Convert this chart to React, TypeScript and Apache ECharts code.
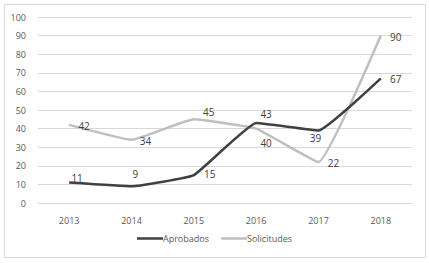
import React, { useEffect, useRef } from "react";
import * as echarts from "echarts";

const categories = ["2013", "2014", "2015", "2016", "2017", "2018"];
const aprobados = [11, 9, 15, 43, 39, 67];
const solicitudes = [42, 34, 45, 40, 22, 90];
const seriesNames = ["Aprobados", "Solicitudes"];

// label offsets per point [dx, dy] relative to point
const aprobadosLabelPos = [[8, -4], [4, -12], [16, -1], [10, -9], [-3, 8], [15, 1]];
const solicitudesLabelPos = [[15, 1], [14, 1], [15, -7], [10, 14], [15, 1], [15, 1]];

export default function App() {
  const ref = useRef<HTMLDivElement>(null);
  useEffect(() => {
    document.body.style.margin = "0";
    const chart = echarts.init(ref.current!, null, { renderer: "svg" });
    const font = "'Open Sans', 'Liberation Sans', sans-serif";
    const mk = (vals: number[], pos: number[][]) =>
      vals.map((v, i) => ({
        value: v,
        label: {
          show: true,
          position: pos[i],
          align: "center",
          verticalAlign: "middle",
        },
      }));
    chart.setOption({
      animation: false,
      backgroundColor: "#ffffff",
      textStyle: { fontFamily: font },
      graphic: [
        {
          type: "rect",
          shape: { x: 4.5, y: 4.5, width: 421, height: 253 },
          style: { fill: "none", stroke: "#d9d9d9", lineWidth: 1 },
          silent: true,
        },
      ],
      grid: { left: 38, right: 17, top: 17, bottom: 60, containLabel: false },
      xAxis: {
        type: "category",
        data: categories,
        boundaryGap: true,
        axisLine: { lineStyle: { color: "#d9d9d9" } },
        axisTick: { show: false },
        axisLabel: { color: "#595959", fontSize: 9, margin: 13, fontFamily: font },
      },
      yAxis: {
        type: "value",
        min: 0,
        max: 100,
        interval: 10,
        axisLine: { show: false },
        axisTick: { show: false },
        splitLine: { lineStyle: { color: "#d9d9d9", width: 1 } },
        axisLabel: { color: "#595959", fontSize: 9, margin: 12, fontFamily: font },
      },
      legend: {
        bottom: 15,
        left: "center",
        itemWidth: 26,
        itemHeight: 2.5,
        itemGap: 12,
        icon: "rect",
        textStyle: { color: "#595959", fontSize: 9, fontFamily: font, padding: [0, 0, 0, -5] },
        data: seriesNames,
      },
      series: [
        {
          name: seriesNames[0],
          type: "line",
          data: mk(aprobados, aprobadosLabelPos),
          smooth: 0.1,
          symbol: "circle",
          symbolSize: 0.1,
          showSymbol: true,
          lineStyle: { color: "#404040", width: 2.5 },
          itemStyle: { color: "#404040" },
          label: { show: true, color: "#404040", fontSize: 10, fontFamily: font },
          labelLayout: { hideOverlap: false },
          z: 3,
        },
        {
          name: seriesNames[1],
          type: "line",
          data: mk(solicitudes, solicitudesLabelPos),
          smooth: 0.1,
          symbol: "circle",
          symbolSize: 0.1,
          showSymbol: true,
          lineStyle: { color: "#bfbfbf", width: 2.5 },
          itemStyle: { color: "#bfbfbf" },
          label: { show: true, color: "#404040", fontSize: 10, fontFamily: font },
          labelLayout: { hideOverlap: false },
          z: 2,
        },
      ],
    });
    return () => chart.dispose();
  }, []);
  return (
    <div
      ref={ref}
      style={{ position: "absolute", left: 0, top: 0, width: 429, height: 263 }}
    />
  );
}
